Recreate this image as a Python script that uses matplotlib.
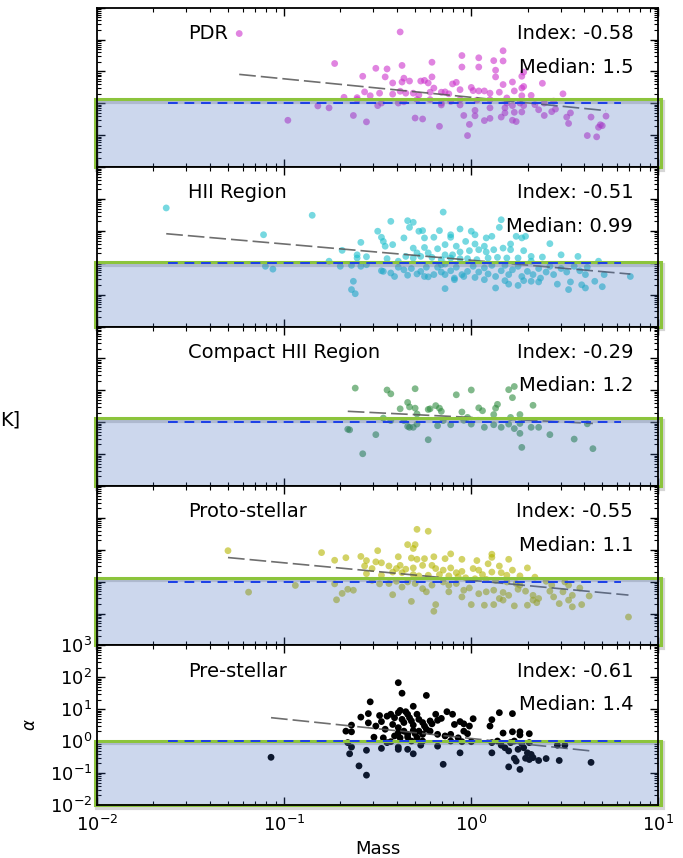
import numpy as np
import matplotlib
matplotlib.use('Agg')
import matplotlib.pyplot as plt
import matplotlib.transforms as mtransforms
from matplotlib.patches import Rectangle

# panel labels and fit results
names = ['PDR', 'HII Region', 'Compact HII Region', 'Proto-stellar', 'Pre-stellar']
fit_index = [-0.58, -0.51, -0.29, -0.55, -0.61]
medians = ['1.5', '0.99', '1.2', '1.1', '1.4']
fit_log_norm = [0.19, 0.08, 0.15, 0.04, 0.08]   # log10(alpha) of the fit at Mass = 1
colors = ['#cc33cc', '#1bbfcc', '#2e8b3e', '#b5b500', 'black']
alphas = [0.6, 0.6, 0.6, 0.6, 1.0]
box_top = [1.33, 1.03, 1.33, 1.33, 1.03]        # upper edge of the shaded alpha < 1 box
unity_range = (0.024, 6.3)                      # extent of the alpha = 1 dashed line

# data, stored as log10(Mass) and log10(alpha)
pdr_logm = [-1.24, -0.38, -0.73, -0.37, -0.51, -0.45, -0.21, -0.05, 0.04, 0.17,
            0.12, 0.17, 0.04, -0.05, 0.13, 0.28, 0.27, 0.13, -0.58, -0.46,
            -0.36, -0.42, -0.37, -0.33, -0.27, -0.25, -0.21, -0.23, -0.20, -0.10,
            -0.08, -0.06, 0.00, 0.01, 0.04, 0.07, 0.10, 0.15, 0.17, 0.22,
            0.23, 0.27, 0.28, 0.38, 0.49, 0.32, 0.27, 0.19, -0.57, -0.49,
            -0.42, -0.38, -0.35, -0.31, -0.28, -0.22, -0.16, -0.14, -0.12, -0.68,
            -0.61, -0.61, -0.54, -0.48, -0.50, -0.39, -0.36, -0.29, -0.22, -0.16,
            -0.11, -0.06, 0.03, 0.10, 0.19, 0.26, 0.34, 0.39, 0.44, 0.45,
            0.43, 0.36, 0.28, 0.22, 0.18, 0.10, 0.02, -0.06, -0.16, -0.82,
            -0.76, -0.63, -0.98, -0.56, -0.30, -0.26, -0.17, -0.04, 0.02, -0.01,
            0.07, 0.10, 0.16, 0.22, 0.24, 0.27, 0.23, 0.18, 0.39, 0.51,
            0.52, 0.53, 0.64, 0.72, 0.69, 0.68, 0.62, 0.67, -0.02, 0.70]
pdr_loga = [2.19, 2.24, 1.25, 1.19, 1.10, 1.08, 1.29, 1.50, 1.43, 1.65,
            1.34, 1.33, 1.14, 1.14, 1.04, 0.98, 0.85, 0.83, 0.85, 0.83,
            0.79, 0.64, 0.67, 0.70, 0.70, 0.72, 0.83, 0.64, 0.48, 0.61,
            0.66, 0.43, 0.50, 0.40, 0.39, 0.39, 0.32, 0.35, 0.59, 0.67,
            0.39, 0.48, 0.53, 0.63, 0.30, 0.25, 0.24, 0.17, 0.36, 0.32,
            0.29, 0.38, 0.32, 0.32, 0.26, 0.35, 0.35, 0.36, 0.30, 0.19,
            0.18, 0.12, 0.24, 0.01, -0.07, 0.01, 0.05, 0.12, 0.12, 0.01,
            0.06, 0.12, 0.10, 0.12, 0.01, 0.01, -0.04, 0.01, 0.07, -0.18,
            -0.26, -0.20, -0.07, -0.07, -0.14, -0.14, -0.22, -0.05, -0.05, -0.08,
            -0.14, -0.38, -0.53, -0.58, -0.46, -0.49, -0.72, -0.38, -0.39, -0.66,
            -0.54, -0.47, -0.43, -0.53, -0.57, -0.27, -0.28, -0.30, -0.38, -0.43,
            -0.63, -0.30, -0.43, -0.40, -0.67, -0.75, -1.01, -1.05, -1.01, -0.70]

hii_logm = [-1.63, -0.85, -0.15, -1.11, -0.43, -0.34, -0.31, -0.33, -0.28, -0.26,
            -0.50, -0.48, -0.47, -0.46, -0.42, -0.36, -0.59, -0.69, -0.61, -0.56,
            -0.61, -0.76, -0.45, -0.39, -0.35, -0.31, -0.29, -0.25, -0.20, -0.17,
            -0.11, -0.11, -0.06, 0.00, 0.02, 0.08, 0.11, 0.16, 0.15, 0.24,
            0.27, 0.29, 0.21, 0.17, 0.12, 0.07, 0.02, -0.03, -0.08, -0.14,
            -0.18, -0.23, -0.14, -0.10, -0.06, -0.01, 0.04, 0.08, 0.21, 0.28,
            0.32, 0.38, 0.42, 0.48, 0.57, 0.68, 0.32, 0.25, 0.19, 0.14,
            0.09, 0.03, -0.02, -0.06, -0.11, -0.16, -0.21, -0.25, -0.27, -0.31,
            -1.10, -1.06, -0.70, -0.64, -0.59, -0.56, -0.48, -0.47, -0.41, -0.39,
            -0.36, -0.32, -0.29, -0.27, -0.25, -0.24, -0.20, -0.18, -0.16, -0.14,
            -0.14, -0.11, -0.09, -0.08, -0.05, -0.02, 0.01, 0.02, 0.04, 0.07,
            0.09, 0.11, 0.13, 0.16, 0.18, 0.20, 0.22, 0.25, 0.27, 0.28,
            0.30, 0.33, 0.36, 0.37, 0.40, 0.42, 0.44, 0.46, 0.48, 0.51,
            0.53, 0.55, 0.58, 0.61, 0.62, 0.66, 0.71, 0.85, 0.59, 0.52,
            0.61, 0.70, 0.36, 0.32, 0.20, 0.25, 0.13, -0.04, -0.09, -0.14,
            -0.23, -0.16, 0.07, 0.18, -0.63, -0.64, -0.62, -0.43, -0.34]
hii_loga = [1.72, 1.49, 1.59, 0.88, 1.30, 1.32, 1.27, 1.11, 0.99, 1.01,
            0.99, 0.80, 0.67, 0.52, 0.57, 0.78, 0.64, 0.39, 0.25, 0.19,
            0.15, 0.05, 0.13, 0.05, 0.20, 0.46, 0.31, 0.78, 0.80, 1.01,
            0.88, 0.80, 1.06, 0.99, 0.88, 0.78, 0.83, 1.35, 1.11, 0.83,
            0.78, 0.83, 0.59, 0.46, 0.41, 0.52, 0.59, 0.67, 0.52, 0.57,
            0.44, 0.31, 0.25, 0.25, 0.34, 0.38, 0.41, 0.34, 0.41, 0.38,
            0.20, 0.18, 0.60, 0.25, 0.20, 0.05, 0.05, 0.15, 0.15, 0.17,
            0.15, 0.10, 0.13, 0.13, 0.15, 0.10, 0.17, 0.48, 0.20, 0.15,
            -0.11, -0.20, -0.11, -0.08, -0.11, -0.06, -0.25, -0.27, -0.43, -0.14,
            -0.22, -0.18, -0.35, -0.27, -0.43, -0.14, -0.37, -0.14, -0.29, -0.04,
            -0.37, -0.25, -0.48, -0.14, -0.37, -0.27, -0.11, -0.46, -0.29, -0.16,
            -0.35, -0.08, -0.43, -0.25, -0.08, -0.37, -0.22, -0.11, -0.43, -0.56,
            -0.27, -0.37, -0.18, -0.48, -0.29, -0.11, -0.37, -0.67, -0.18, -0.29,
            -0.60, -0.11, -0.25, -0.37, -0.14, -0.58, -0.37, -0.43, -0.69, -0.84,
            -0.79, -0.75, -0.60, -0.58, -0.67, -0.71, -0.79, -0.43, -0.53, -0.81,
            -0.44, -0.06, -0.53, -0.56, -0.58, -0.84, -0.97, -0.32, -0.39]

chii_logm = [-0.62, -0.45, -0.43, -0.30, -0.08, 0.00, 0.20, 0.23, 0.22, 0.33,
             -0.34, -0.33, -0.38, -0.30, -0.29, -0.23, -0.22, -0.19, -0.17, -0.16,
             -0.05, -0.04, 0.04, 0.06, 0.13, 0.14, 0.12, 0.21, 0.26, -0.47,
             -0.43, -0.36, -0.34, -0.33, -0.31, -0.29, -0.18, -0.15, -0.11, 0.00,
             0.07, 0.12, 0.16, 0.20, 0.23, 0.26, 0.26, 0.32, 0.36, 0.42,
             0.55, 0.65, 0.27, -0.23, -0.51, -0.58, -0.65, -0.66, -0.02, 0.62]
chii_loga = [1.07, 1.01, 0.89, 1.05, 0.86, 1.01, 1.02, 1.12, 0.77, 0.53,
             0.62, 0.48, 0.42, 0.44, 0.26, 0.40, 0.42, 0.52, 0.44, 0.34,
             0.32, 0.06, 0.45, 0.36, 0.44, 0.56, 0.24, 0.15, 0.24, 0.13,
             0.05, 0.05, -0.13, -0.16, -0.16, -0.06, -0.11, 0.05, -0.08, -0.06,
             -0.16, -0.08, -0.16, -0.06, -0.20, -0.04, -0.35, -0.16, -0.16, -0.39,
             -0.53, -0.83, -0.79, -0.55, -0.39, -0.99, -0.24, -0.22, 0.15, -0.05]

proto_logm = [-1.30, -0.80, -0.29, -0.23, -0.34, -0.30, -0.31, -0.50, -0.73, -0.67,
              -0.59, -0.56, -0.51, -0.48, -0.39, -0.32, -0.29, -0.25, -0.20, -0.14,
              -0.11, -0.05, 0.03, 0.11, 0.11, 0.20, 0.09, 0.15, 0.30, -0.57,
              -0.53, -0.44, -0.40, -0.38, -0.35, -0.31, -0.26, -0.21, -0.19, -0.15,
              -0.11, -0.08, -0.05, 0.01, 0.04, 0.06, 0.11, 0.16, 0.19, 0.22,
              0.26, 0.34, -0.56, -0.48, -0.42, -0.37, -0.31, -0.28, -0.23, -0.17,
              -0.12, -0.07, -0.03, 0.02, 0.08, 0.13, 0.19, 0.24, 0.26, -0.73,
              -0.94, -1.19, -0.69, -0.66, -0.63, -0.72, -0.53, -0.49, -0.44, -0.40,
              -0.37, -0.34, -0.30, -0.26, -0.21, -0.15, -0.12, -0.08, -0.04, -0.01,
              0.04, 0.08, 0.12, 0.17, 0.20, 0.25, 0.29, 0.33, 0.36, 0.42,
              0.44, 0.49, 0.50, 0.52, 0.58, 0.63, 0.54, 0.52, 0.47, 0.54,
              0.59, 0.35, 0.30, 0.23, 0.17, 0.12, 0.07, 0.00, -0.12, -0.19,
              -0.20, -0.32, -0.42, -0.24, 0.84, 0.33, 0.40, 0.43, -0.05, 0.15]
proto_loga = [0.97, 0.91, 1.64, 1.58, 1.16, 1.16, 1.04, 0.97, 0.67, 0.75,
              0.79, 0.66, 0.62, 0.59, 0.78, 0.74, 0.70, 0.72, 0.78, 0.72,
              0.87, 0.70, 0.66, 0.86, 0.76, 0.70, 0.56, 0.49, 0.43, 0.49,
              0.41, 0.49, 0.41, 0.51, 0.39, 0.43, 0.51, 0.51, 0.41, 0.36,
              0.43, 0.28, 0.32, 0.41, 0.36, 0.22, 0.30, 0.28, 0.20, 0.36,
              0.18, 0.14, 0.25, 0.20, 0.30, 0.28, 0.22, 0.18, 0.20, 0.22,
              0.18, 0.15, 0.12, 0.09, 0.07, 0.04, -0.01, -0.06, -0.11, -0.07,
              -0.12, -0.33, -0.37, -0.24, -0.27, -0.57, 0.04, -0.07, -0.06, 0.01,
              -0.17, -0.01, -0.06, -0.22, -0.11, -0.01, -0.11, -0.06, -0.27, -0.20,
              -0.38, -0.32, -0.27, -0.34, -0.43, -0.24, -0.30, -0.43, -0.53, -0.30,
              -0.48, -0.32, -0.01, -0.11, -0.20, -0.45, -0.43, -0.58, -0.69, -0.79,
              -0.72, -0.66, -0.74, -0.76, -0.58, -0.72, -0.74, -0.72, -0.32, -0.72,
              -0.93, -0.62, -0.41, -0.32, -1.11, -0.58, 0.01, -0.11, -0.48, -0.53]

pre_logm = [-0.39, -0.37, -0.24, -0.54, -0.31, -0.55, -0.59, -0.64, -0.67, -0.64,
            -0.55, -0.51, -0.49, -0.48, -0.45, -0.43, -0.41, -0.42, -0.39, -0.38,
            -0.35, -0.34, -0.37, -0.36, -0.33, -0.32, -0.31, -0.29, -0.28, -0.26,
            -0.25, -0.22, -0.21, -0.19, -0.18, -0.16, -0.13, -0.10, -0.09, -0.06,
            -0.04, -0.01, 0.01, -0.04, -0.02, -0.39, -0.39, -0.36, -0.34, -0.31,
            -0.30, -0.28, -0.26, -0.24, -0.22, -0.18, -0.14, -0.11, -0.07, -0.46,
            -0.52, -0.47, -0.41, -0.38, -0.34, -0.29, 0.15, 0.22, 0.11, 0.10,
            0.17, 0.22, 0.26, 0.26, 0.31, -0.66, -0.64, -0.65, -0.56, -0.48,
            -0.45, -0.43, -0.39, -0.39, -0.34, -0.32, -0.31, -0.27, -0.26, -0.18,
            -0.11, -0.06, -0.05, 0.00, 0.11, 0.11, 0.14, 0.16, 0.18, 0.20,
            0.21, 0.23, 0.25, 0.27, 0.28, 0.30, 0.31, 0.32, 0.33, 0.36,
            0.40, 0.47, 0.23, 0.24, 0.26, 0.20, 0.29, 0.31, 0.46, 0.50,
            0.64, -1.07, -0.60, -0.56, -0.15]
pre_loga = [1.83, 1.50, 1.43, 1.23, 1.09, 0.86, 0.75, 0.50, 0.31, 0.29,
            0.57, 0.47, 0.80, 0.61, 0.78, 0.84, 0.73, 0.52, 0.89, 0.96,
            0.92, 0.84, 0.68, 0.58, 0.73, 0.63, 0.50, 0.84, 0.68, 0.58,
            0.47, 0.63, 0.54, 0.84, 0.65, 0.71, 0.92, 0.84, 0.52, 0.61,
            0.54, 0.47, 0.70, 0.31, 0.23, 0.42, 0.26, 0.31, 0.21, 0.33,
            0.23, 0.31, 0.21, 0.37, 0.31, 0.21, 0.16, 0.21, 0.10, 0.37,
            0.12, 0.10, 0.16, 0.10, 0.12, 0.10, 0.89, 0.86, 0.67, 0.47,
            0.25, 0.29, 0.29, 0.19, 0.23, -0.05, -0.19, -0.40, -0.29, -0.23,
            -0.05, -0.02, -0.19, -0.26, -0.26, 0.00, -0.40, -0.13, 0.00, -0.16,
            0.00, -0.37, -0.02, -0.02, -0.05, -0.37, 0.00, -0.13, -0.21, -0.31,
            -0.05, 0.00, -0.26, -0.08, -0.21, -0.37, -0.05, -0.42, -0.52, -0.61,
            -0.55, -0.61, -0.54, -0.63, -0.89, -0.81, -0.54, -0.58, -0.13, -0.13,
            -0.67, -0.51, -0.78, -1.07, -0.73]

log_mass = [pdr_logm, hii_logm, chii_logm, proto_logm, pre_logm]
log_alpha = [pdr_loga, hii_loga, chii_loga, proto_loga, pre_loga]

fig, axes = plt.subplots(5, 1, sharex=True, figsize=(6.83, 8.58), dpi=100)
fig.subplots_adjust(left=0.142, right=0.964, top=0.991, bottom=0.062, hspace=0)

for i, ax in enumerate(axes):
    m = 10 ** np.array(log_mass[i])
    a = 10 ** np.array(log_alpha[i])
    ax.set_xscale('log')
    ax.set_yscale('log')
    ax.set_xlim(1e-2, 1e1)
    ax.set_ylim(1e-2, 1e3)

    ax.scatter(m, a, s=24, color=colors[i], alpha=alphas[i], edgecolors='none', zorder=2)

    # power-law fit over the mass range of the sample
    xs = np.logspace(min(log_mass[i]), max(log_mass[i]), 50)
    ax.plot(xs, 10 ** fit_log_norm[i] * xs ** fit_index[i], color='#555555',
            lw=1.2, alpha=0.85, dashes=(10, 3), zorder=3)

    # shaded alpha < 1 region with a soft shadow
    trans = mtransforms.blended_transform_factory(ax.transAxes, ax.transData)
    shadow = Rectangle((-0.004, 1e-2), 1.008, box_top[i] - 1e-2, fill=False,
                       edgecolor='0.55', lw=3, alpha=0.35, clip_on=False, zorder=3,
                       transform=trans + mtransforms.ScaledTranslation(
                           1.5 / 72, -2 / 72, fig.dpi_scale_trans))
    ax.add_patch(shadow)
    box = Rectangle((-0.004, 1e-2), 1.008, box_top[i] - 1e-2,
                    facecolor=(0.216, 0.388, 0.733, 0.25), edgecolor='#8cc43c',
                    lw=2.2, clip_on=False, zorder=4, transform=trans)
    ax.add_patch(box)

    ax.hlines(1.0, unity_range[0], unity_range[1], colors='#1a3ee8',
              linestyles=(0, (5, 3.5)), lw=1.4, zorder=5)

    ax.text(0.163, 0.838, names[i], transform=ax.transAxes, fontsize=14,
            ha='left', va='center', zorder=6)
    ax.text(0.955, 0.838, 'Index: %.2f' % fit_index[i], transform=ax.transAxes,
            fontsize=14, ha='right', va='center', zorder=6)
    ax.text(0.955, 0.628, 'Median: ' + medians[i], transform=ax.transAxes,
            fontsize=14, ha='right', va='center', zorder=6)

    ax.tick_params(which='both', direction='in', top=True, right=True, labelsize=13)
    ax.tick_params(which='major', length=6, width=1)
    ax.tick_params(which='minor', length=3, width=0.8)
    ax.tick_params(axis='x', pad=7)
    for sp in ax.spines.values():
        sp.set_linewidth(1.3)
        sp.set_zorder(6)
    if i < 4:
        ax.tick_params(labelleft=False, labelbottom=False)

axes[-1].set_yticks([1e-2, 1e-1, 1e0, 1e1, 1e2, 1e3])
axes[-1].set_xlabel('Mass', fontsize=13, labelpad=4)
fig.text(30 / 683, 1 - 725 / 858, r'$\alpha$', rotation=90, fontsize=12,
         ha='center', va='center')
fig.text(0.0, 1 - 420 / 858, 'K]', fontsize=14, ha='left', va='center')

plt.savefig('out.png', dpi=100)
